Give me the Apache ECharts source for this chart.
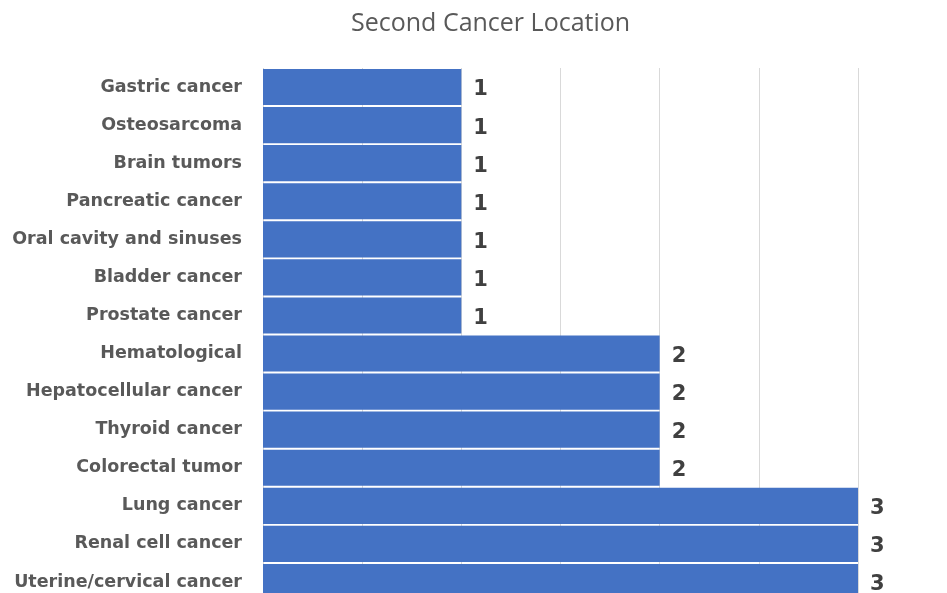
<!DOCTYPE html>
<html><head><meta charset="utf-8">
<script src="https://cdn.jsdelivr.net/npm/echarts@6/dist/echarts.min.js"></script>
<style>html,body{margin:0;padding:0;background:#fff}#c{width:947px;height:593px}</style>
</head><body><div id="c"></div>
<script>
const categories = ["Gastric cancer","Osteosarcoma","Brain tumors","Pancreatic cancer","Oral cavity and sinuses","Bladder cancer","Prostate cancer","Hematological","Hepatocellular cancer","Thyroid cancer","Colorectal tumor","Lung cancer","Renal cell cancer","Uterine/cervical cancer"];
const values = [1,1,1,1,1,1,1,2,2,2,2,3,3,3];
const chart = echarts.init(document.getElementById('c'), null, {renderer:'canvas'});
chart.setOption({
  animation:false,
  backgroundColor:'#fff',
  title:{text:'Second Cancer Location',left:346,top:6,textStyle:{fontFamily:'Open Sans',fontWeight:'normal',fontSize:25,color:'#595959'}},
  grid:{left:263,width:595,top:68,height:533,containLabel:false,outerBoundsMode:'none'},
  xAxis:{type:'value',min:0,max:3,interval:0.5,axisLabel:{show:false},axisLine:{show:false},axisTick:{show:false},
    splitLine:{show:true,lineStyle:{color:'#d9d9d9',width:1}}},
  yAxis:{type:'category',data:categories,inverse:true,axisLine:{show:false},axisTick:{show:false},
    axisLabel:{margin:21,fontFamily:'DejaVu Sans',fontWeight:'bold',fontSize:17.5,color:'#595959'}},
  series:[{type:'bar',data:values,barCategoryGap:'5%',itemStyle:{color:'#4472C4'},
    label:{show:true,position:'right',distance:12,fontFamily:'DejaVu Sans',fontWeight:'bold',fontSize:21,color:'#404040',offset:[0,3]}}]
});
</script></body></html>
